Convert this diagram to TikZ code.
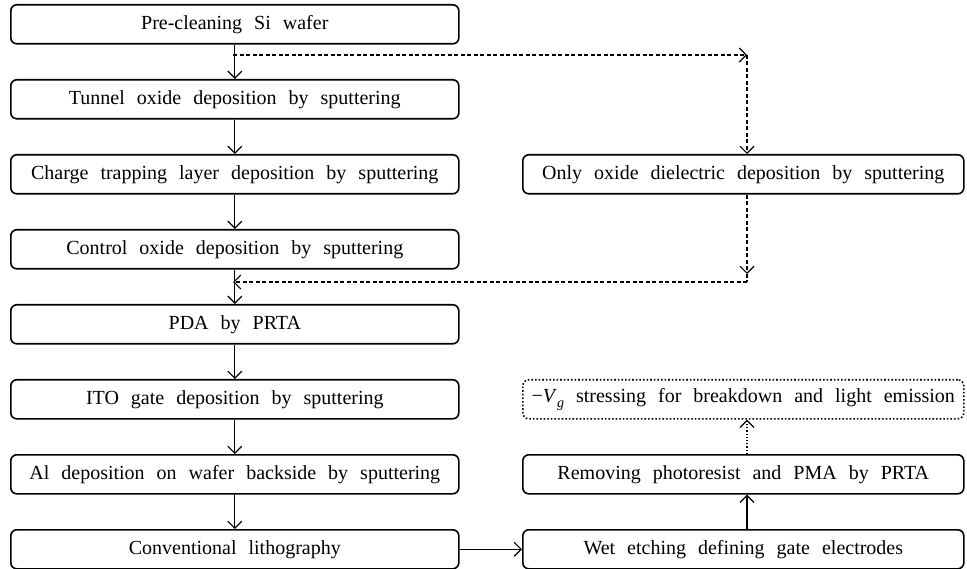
\documentclass[tikz,border=0pt]{standalone}
\usepackage{fontspec}
\setmainfont{Liberation Serif}
\usetikzlibrary{arrows.meta}
\newcommand\myboxfont{\fontsize{20}{24}\selectfont\spaceskip=0.6em\relax}
\begin{document}
\begin{tikzpicture}[x=1pt,y=-1pt,
  stepbox/.style={draw,line width=1.6pt,rounded corners=6pt,minimum height=39pt,inner sep=0pt,font=\myboxfont,anchor=north west},
  arr/.style={line width=1.2pt,-{Straight Barb[length=7pt,width=14pt,line width=1.2pt]}},
  dsh/.style={arr,dash pattern=on 4pt off 2.5pt}
]
\useasboundingbox (0,0) rectangle (967,569);
\node[stepbox,minimum width=448pt] (a) at (10,4) {Pre-cleaning Si wafer};
\node[stepbox,minimum width=448pt] (b) at (10,79) {Tunnel oxide deposition by sputtering};
\node[stepbox,minimum width=448pt] (c) at (10,154) {Charge trapping layer deposition by sputtering};
\node[stepbox,minimum width=448pt] (d) at (10,229) {Control oxide deposition by sputtering};
\node[stepbox,minimum width=448pt] (e) at (10,304) {PDA by PRTA};
\node[stepbox,minimum width=448pt] (f) at (10,379) {ITO gate deposition by sputtering};
\node[stepbox,minimum width=448pt] (g) at (10,454) {Al deposition on wafer backside by sputtering};
\node[stepbox,minimum width=448pt] (h) at (10,529) {Conventional lithography};
\node[stepbox,minimum width=441pt] (o) at (522,154) {Only oxide dielectric deposition by sputtering};
\node[stepbox,minimum width=441pt,dotted] (v) at (522,379) {−\textit{V}\raisebox{-0.22em}{\fontsize{14}{16}\selectfont\itshape g} stressing for breakdown and light emission};
\node[stepbox,minimum width=441pt] (r) at (522,454) {Removing photoresist and PMA by PRTA};
\node[stepbox,minimum width=441pt] (w) at (522,529) {Wet etching defining gate electrodes};
\coordinate (s1) at (233,55);
\coordinate (t1) at (747,55);
\coordinate (s2) at (747,282);
\coordinate (t2) at (233,282);
\coordinate (m2) at (747,274);
\draw[arr] (a.south) -- (b.north);
\draw[arr] (b.south) -- (c.north);
\draw[arr] (c.south) -- (d.north);
\draw[arr] (d.south) -- (e.north);
\draw[arr] (e.south) -- (f.north);
\draw[arr] (f.south) -- (g.north);
\draw[arr] (g.south) -- (h.north);
\draw[arr] (h.east) -- (w.west);
\draw[arr] (t1|-w.north) -- (t1|-r.south);
\draw[arr,dotted] (t1|-r.north) -- (t1|-v.south);
\draw[dsh] (s1) -- (t1);
\draw[dsh] (t1) -- (t1|-o.north);
\draw[dsh] (t1|-o.south) -- (m2);
\draw[dash pattern=on 4pt off 2.5pt,line width=1.2pt] (m2) -- (s2);
\draw[dsh] (s2) -- (t2);
\end{tikzpicture}
\end{document}
